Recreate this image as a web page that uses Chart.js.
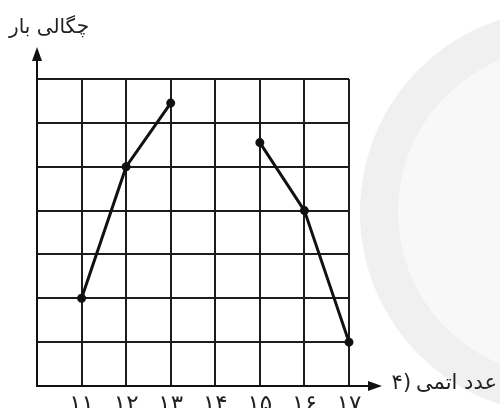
<!DOCTYPE html>
<html>
<head>
    <meta charset="utf-8">
    <title>چگالی بار</title>
    <script src="https://cdn.jsdelivr.net/npm/chart.js"></script>
    <style>
        body { margin: 0; background: #fff; }
        #wrap { width: 500px; height: 408px; position: relative; }
    </style>
</head>
<body>
    <div id="wrap"><canvas id="myChart"></canvas></div>
    <script>
        // data
        var atomicNumbers = [11, 12, 13, 14, 15, 16, 17];
        var chargeDensity = [2, 5, 6.45, null, 5.55, 4, 1];
        var tickLabels = {11: '۱۱', 12: '۱۲', 13: '۱۳', 14: '۱۴', 15: '۱۵', 16: '۱۶', 17: '۱۷'};
        var yTitle = 'چگالی بار';
        var xTitle = 'عدد اتمی';
        var optionNumber = '۴';

        var points = atomicNumbers.map(function (x, i) {
            return {x: x, y: chargeDensity[i]};
        });

        // faint watermark behind the chart
        var watermark = {
            id: 'watermark',
            beforeDraw: function (chart) {
                var c = chart.ctx;
                c.save();
                c.fillStyle = '#f8f8f8';
                c.beginPath();
                c.arc(562, 212, 202, 0, Math.PI * 2);
                c.fill();
                c.strokeStyle = '#f0f0f0';
                c.lineWidth = 38;
                c.beginPath();
                c.arc(562, 212, 183, Math.PI * 0.6, Math.PI * 1.42);
                c.stroke();
                c.restore();
            }
        };

        // axis arrows and titles
        var axisDecor = {
            id: 'axisDecor',
            afterDraw: function (chart) {
                var c = chart.ctx;
                var a = chart.chartArea;
                c.save();
                c.strokeStyle = '#111';
                c.fillStyle = '#111';
                c.lineWidth = 2;
                // y arrow
                c.beginPath();
                c.moveTo(a.left, a.top);
                c.lineTo(a.left, a.top - 22);
                c.stroke();
                c.beginPath();
                c.moveTo(a.left, a.top - 32);
                c.lineTo(a.left - 5, a.top - 18);
                c.lineTo(a.left + 5, a.top - 18);
                c.closePath();
                c.fill();
                // x arrow
                c.beginPath();
                c.moveTo(a.right, a.bottom);
                c.lineTo(a.right + 22, a.bottom);
                c.stroke();
                c.beginPath();
                c.moveTo(a.right + 33, a.bottom);
                c.lineTo(a.right + 19, a.bottom - 5);
                c.lineTo(a.right + 19, a.bottom + 5);
                c.closePath();
                c.fill();
                // titles
                c.textBaseline = 'middle';
                c.fillStyle = '#222';
                c.textAlign = 'right';
                c.font = '20px "DejaVu Sans"';
                c.fillText(yTitle, 89, 28);
                c.font = '21px "DejaVu Sans"';
                c.fillText(xTitle, 497, a.bottom - 2);
                var xEnd = 497 - c.measureText(xTitle).width - 5;
                c.fillText(')', xEnd, a.bottom - 2);
                var pw = c.measureText(')').width;
                c.fillText(optionNumber, xEnd - pw, a.bottom - 2);
                c.restore();
            }
        };

        var ctx = document.getElementById('myChart').getContext('2d');
        var myChart = new Chart(ctx, {
            type: 'line',
            data: {
                datasets: [{
                    data: points,
                    borderColor: '#111',
                    backgroundColor: '#111',
                    borderWidth: 3,
                    pointRadius: 3,
                    pointHoverRadius: 3,
                    spanGaps: false,
                    tension: 0,
                    clip: 10
                }]
            },
            options: {
                responsive: true,
                maintainAspectRatio: false,
                animation: false,
                layout: {
                    padding: {left: 37, top: 79, right: 151, bottom: 0}
                },
                plugins: {
                    legend: {display: false},
                    tooltip: {enabled: false}
                },
                scales: {
                    x: {
                        type: 'linear',
                        min: 10,
                        max: 17,
                        afterFit: function (s) { s.height = 22; },
                        grid: {color: '#1c1c1c', lineWidth: 2, drawTicks: false},
                        border: {display: true, color: '#111', width: 2},
                        ticks: {
                            stepSize: 1,
                            padding: 5,
                            color: '#222',
                            font: {family: 'DejaVu Sans', size: 23},
                            callback: function (v) { return tickLabels[v] || ''; }
                        }
                    },
                    y: {
                        min: 0,
                        max: 7,
                        afterFit: function (s) { s.width = 0; },
                        grid: {color: '#1c1c1c', lineWidth: 2, drawTicks: false},
                        border: {display: true, color: '#111', width: 2},
                        ticks: {stepSize: 1, display: false}
                    }
                }
            },
            plugins: [watermark, axisDecor]
        });
    </script>
</body>
</html>
